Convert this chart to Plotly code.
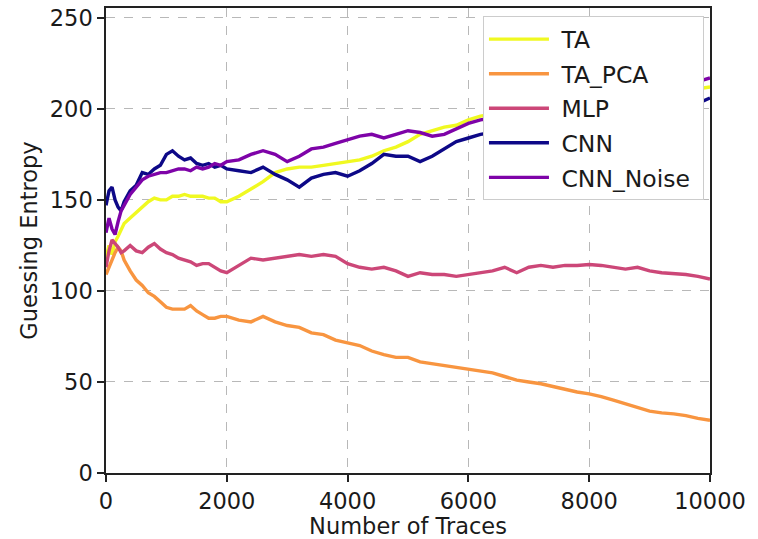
import plotly.graph_objects as go

X = [0, 50, 100, 150, 200, 250, 300, 400, 500, 600, 700, 800, 900, 1000,
     1100, 1200, 1300, 1400, 1500, 1600, 1700, 1800, 1900, 2000,
     2200, 2400, 2600, 2800, 3000, 3200, 3400, 3600, 3800, 4000,
     4200, 4400, 4600, 4800, 5000, 5200, 5400, 5600, 5800, 6000,
     6200, 6400, 6600, 6800, 7000, 7200, 7400, 7600, 7800, 8000,
     8200, 8400, 8600, 8800, 9000, 9200, 9400, 9600, 9800, 10000]

TA = [118, 125, 120, 127, 130, 134, 137, 140, 143, 146, 149, 151, 150, 150,
      152, 152, 153, 152, 152, 152, 151, 151, 149, 149,
      152, 156, 160, 165, 167, 168, 168, 169, 170, 171,
      172, 174, 177, 179, 182, 186, 188, 190, 191, 194,
      196, 197, 198, 199, 200, 201, 202, 203, 204, 204,
      205, 206, 206, 207, 208, 208, 209, 210, 211, 212]

TA_PCA = [109, 113, 118, 121, 124, 122, 117, 111, 106, 103, 99, 97, 94, 91,
          90, 90, 90, 92, 89, 87, 85, 85, 86, 86,
          84, 83, 86, 83, 81, 80, 77, 76, 73, 71.5,
          70, 67, 65, 63.5, 63.5, 61, 60, 59, 58, 57,
          56, 55, 53, 51, 50, 49, 47.5, 46, 44.5, 43.5,
          42, 40, 38, 36, 34, 33, 32.5, 31.5, 30, 29]

MLP = [113, 122, 128, 126, 124, 121, 122, 125, 122, 121, 124, 126, 123, 121,
       120, 118, 117, 116, 114, 115, 115, 113, 111, 110,
       114, 118, 117, 118, 119, 120, 119, 120, 119, 115,
       113, 112, 113, 111, 108, 110, 109, 109, 108, 109,
       110, 111, 113, 110, 113, 114, 113, 114, 114, 114.5,
       114, 113, 112, 113, 111, 110, 109.5, 109, 108, 106.5]

CNN = [147, 155, 157, 150, 146, 144, 149, 155, 158, 165, 164, 167, 169, 175,
       177, 174, 172, 173, 170, 169, 170, 168, 169, 167,
       166, 165, 168, 164, 161, 157, 162, 164, 165, 163,
       166, 170, 175, 174, 174, 171, 174, 178, 182, 184,
       186, 187, 189, 190, 191, 192, 193, 194, 195, 196,
       197, 198, 198, 199, 200, 200, 201, 201, 203, 206]

CNN_NOISE = [132, 140, 134, 131, 138, 144, 147, 153, 157, 161, 163, 164, 165, 165,
             166, 167, 167, 166, 168, 167, 168, 170, 169, 171,
             172, 175, 177, 175, 171, 174, 178, 179, 181, 183,
             185, 186, 184, 186, 188, 187, 185, 186, 189, 192,
             194, 195, 197, 198, 199, 200, 201, 203, 204, 205,
             206, 207, 209, 210, 211, 212, 213, 214, 215, 217]

NAMES = ["TA", "TA_PCA", "MLP", "CNN", "CNN_Noise"]
SERIES = [TA, TA_PCA, MLP, CNN, CNN_NOISE]
COLORS = ["#f0f921", "#f89540", "#cc4778", "#0d0887", "#7e03a8"]

X_TICKS = [0, 2000, 4000, 6000, 8000, 10000]
X_TICK_TEXT = ["0", "2000", "4000", "6000", "8000", "10000"]
Y_TICKS = [0, 50, 100, 150, 200, 250]

FONT = "DejaVu Sans"
FS = 22.5
NB = "\u00a0"

fig = go.Figure()
for i, (name, ys, col) in enumerate(zip(NAMES, SERIES, COLORS)):
    fig.add_trace(go.Scatter(x=X, y=ys, mode="lines", name=NB + name + NB,
                             legendgroup=f"g{i}",
                             line=dict(color=col, width=3.4)))

axis_common = dict(showline=True, linecolor="#222", linewidth=1.5, mirror=True,
                   ticks="outside", ticklen=7, tickwidth=1.5, tickcolor="#222",
                   showgrid=True, gridcolor="#b8b8b8", griddash="dash", gridwidth=1,
                   zeroline=False, tickfont=dict(family=FONT, size=FS, color="#1a1a1a"))

fig.update_xaxes(range=[0, 10000], tickvals=X_TICKS, ticktext=X_TICK_TEXT,
                 title=dict(text="Number of Traces", font=dict(family=FONT, size=FS, color="#1a1a1a"),
                            standoff=4),
                 **axis_common)
fig.update_yaxes(range=[0, 255.4], tickvals=Y_TICKS,
                 title=dict(text="Guessing Entropy", font=dict(family=FONT, size=FS, color="#1a1a1a"),
                            standoff=6),
                 **axis_common)

fig.update_layout(
    width=758, height=539,
    margin=dict(l=106, r=48, t=5, b=64),
    paper_bgcolor="white", plot_bgcolor="white",
    font=dict(family=FONT, size=FS, color="#1a1a1a"),
    legend=dict(x=0.99, y=0.982, xanchor="right", yanchor="top",
                bgcolor="white", bordercolor="#cccccc", borderwidth=1,
                font=dict(family=FONT, size=23.5, color="#1a1a1a"),
                itemwidth=60, tracegroupgap=1),
    showlegend=True,
)

fig.write_html("out.html")
